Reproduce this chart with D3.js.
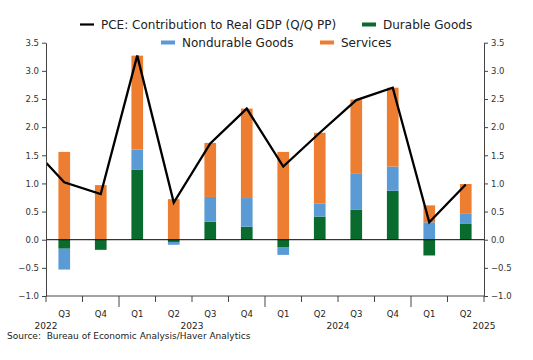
<!DOCTYPE html>
<html><head><meta charset="utf-8">
<script src="https://cdn.jsdelivr.net/npm/d3@7"></script>
<style>body{margin:0;background:#fff}svg{display:block}text{font-family:"DejaVu Sans",Verdana,sans-serif}</style>
</head><body><svg id="c" width="533" height="360"></svg>
<script>
const quarters = ["Q3","Q4","Q1","Q2","Q3","Q4","Q1","Q2","Q3","Q4","Q1","Q2"];
const years = ["2022","2022","2023","2023","2023","2023","2024","2024","2024","2024","2025","2025"];
const durable = [-0.16,-0.18,1.24,-0.04,0.32,0.23,-0.14,0.41,0.53,0.87,-0.28,0.28];
const nondurable = [-0.37,0.00,0.36,-0.05,0.44,0.51,-0.13,0.23,0.64,0.43,0.31,0.18];
const services = [1.56,0.97,1.67,0.72,0.96,1.59,1.56,1.26,1.32,1.40,0.30,0.53];
const pce = [1.02,0.81,3.27,0.66,1.71,2.33,1.30,1.90,2.48,2.70,0.31,0.98];
const pcePrev = 1.72; // Q2 2022, clipped at left edge
const yTicks = [-1.0,-0.5,0.0,0.5,1.0,1.5,2.0,2.5,3.0,3.5];
const yearLabels = ["2022","2023","2024","2025"];

const colors = {durable:"#0a6b2e", nondurable:"#5b9bd5", services:"#ed7d31", pce:"#000"};
const svg = d3.select("#c");
const L = 46, R = 484, T = 42.7, B = 296;
const keys = quarters.map((q,i)=>years[i]+q);
const x = d3.scaleBand().domain(keys).range([L,R]).padding(0);
const y = d3.scaleLinear().domain([-1,3.5]).range([B,T]);
const bw = x.bandwidth()*0.32;
const cx = k => x(k)+x.bandwidth()/2;

// bars
const series = [["durable",durable],["nondurable",nondurable],["services",services]];
keys.forEach((k,i)=>{
  let pos=0, neg=0;
  series.forEach(([name,arr])=>{
    const v = arr[i];
    let y0,y1;
    if(v>=0){y0=pos;y1=pos+v;pos=y1;} else {y0=neg;y1=neg+v;neg=y1;}
    svg.append("rect").attr("x",cx(k)-bw/2).attr("width",bw)
      .attr("y",y(Math.max(y0,y1))).attr("height",Math.abs(y(y0)-y(y1)))
      .attr("fill",colors[name]);
  });
});

// zero line
svg.append("line").attr("x1",L).attr("x2",R).attr("y1",y(0)).attr("y2",y(0)).attr("stroke","#000").attr("stroke-width",1);

// line
svg.append("clipPath").attr("id","clip").append("rect").attr("x",L).attr("y",0).attr("width",R-L).attr("height",360);
const pts = [[cx(keys[0])-x.step(), pcePrev]].concat(keys.map((k,i)=>[cx(k),pce[i]]));
svg.append("path").attr("clip-path","url(#clip)")
  .attr("d", d3.line().x(d=>d[0]).y(d=>y(d[1]))(pts))
  .attr("fill","none").attr("stroke",colors.pce).attr("stroke-width",2.3).attr("stroke-linejoin","miter");

// axes
const axColor = "#444";
const fmt = d3.format(".1f");
const gl = svg.append("g").attr("transform",`translate(${L},0)`)
  .call(d3.axisLeft(y).tickValues(yTicks).tickFormat(fmt).tickSize(4).tickPadding(3).tickSizeOuter(0));
const gr = svg.append("g").attr("transform",`translate(${R},0)`)
  .call(d3.axisRight(y).tickValues(yTicks).tickFormat(fmt).tickSize(4).tickPadding(3).tickSizeOuter(0));
[gl,gr].forEach(g=>{
  g.select(".domain").attr("stroke",axColor);
  g.selectAll(".tick line").attr("stroke",axColor);
  g.selectAll(".tick text").attr("fill","#333").style("font-size","8.5px").style("font-family","DejaVu Sans");
});

// bottom axis
svg.append("line").attr("x1",L).attr("x2",R).attr("y1",B).attr("y2",B).attr("stroke",axColor);
const bounds = keys.map(k=>x(k)).concat([R]);
bounds.forEach((bx,i)=>{
  const isYear = i<keys.length && quarters[i]==="Q1";
  svg.append("line").attr("x1",bx).attr("x2",bx).attr("y1",B).attr("y2",B+(isYear?11:6)).attr("stroke",axColor);
});
keys.forEach((k,i)=>{
  svg.append("text").attr("x",cx(k)).attr("y",317).attr("text-anchor","middle")
    .style("font-size","8.5px").attr("fill","#222").text(quarters[i]);
});
yearLabels.forEach(yr=>{
  const idx = years.map((v,i)=>[v,i]).filter(d=>d[0]===yr).map(d=>d[1]);
  const qn = {"Q1":0,"Q2":1,"Q3":2,"Q4":3};
  const first = idx[0];
  const start = x(keys[first]) - qn[quarters[first]]*x.step();
  svg.append("text").attr("x",start+2*x.step()).attr("y",328.5).attr("text-anchor","middle")
    .style("font-size","9px").attr("fill","#222").text(yr);
});

svg.append("text").attr("x",7).attr("y",339).style("font-size","9px").attr("fill","#222")
  .attr("xml:space","preserve").text("Source:  Bureau of Economic Analysis/Haver Analytics");

// legend
const leg = [
  {label:"PCE: Contribution to Real GDP (Q/Q PP)", c:colors.pce, sx:80, ty:29, h:2.2},
  {label:"Durable Goods", c:colors.durable, sx:362, ty:29, h:4},
  {label:"Nondurable Goods", c:colors.nondurable, sx:161, ty:47, h:4},
  {label:"Services", c:colors.services, sx:320, ty:47, h:4}
];
leg.forEach(d=>{
  svg.append("rect").attr("x",d.sx).attr("y",d.ty-4.5-d.h/2).attr("width",14).attr("height",d.h).attr("fill",d.c);
  svg.append("text").attr("x",d.sx+21).attr("y",d.ty).style("font-size","12px").attr("fill","#222").text(d.label);
});
</script></body></html>
